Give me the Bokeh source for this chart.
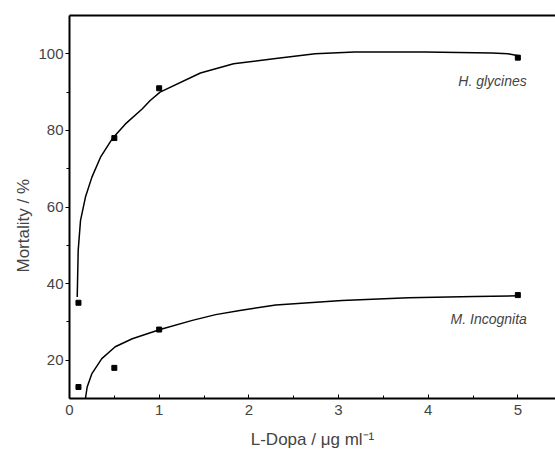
from bokeh.embed import file_html
from bokeh.models import FixedTicker, Label, LinearAxis, Range1d, Title
from bokeh.plotting import figure
from bokeh.resources import INLINE

# Measured mortality (%) at each L-Dopa concentration (ug/ml)
dose = [0.1, 0.5, 1.0, 5.0]
h_glycines = [35, 78, 91, 99]
m_incognita = [13, 18, 28, 37]

# Fitted response curves
h_fit_x = [0.086, 0.097, 0.123, 0.178, 0.25, 0.346, 0.476, 0.624, 0.81, 0.90, 1.01,
           1.46, 1.83, 2.30, 2.74, 3.18, 3.96, 4.71, 4.89, 5.02]
h_fit_y = [36.5, 48.7, 56.5, 62.6, 67.8, 73.0, 77.8, 81.7, 85.6, 87.8, 90.0,
           95.0, 97.4, 98.8, 100.0, 100.5, 100.5, 100.2, 100.0, 99.4]
m_fit_x = [0.178, 0.197, 0.25, 0.36, 0.51, 0.70, 1.01, 1.37, 1.63, 1.90, 2.30,
           3.04, 3.78, 4.52, 5.02]
m_fit_y = [10.0, 13.0, 16.5, 20.4, 23.5, 25.6, 28.0, 30.4, 31.9, 33.0, 34.4,
           35.6, 36.3, 36.6, 36.8]

x_ticks = [0, 1, 2, 3, 4, 5]
x_minor = [0.5, 1.5, 2.5, 3.5, 4.5]
y_ticks = [20, 40, 60, 80, 100]
y_minor = [30, 50, 70, 90]

FONT = "Liberation Sans"

p = figure(width=555, height=452, output_backend="svg", toolbar_location=None,
           x_range=Range1d(0, 5.42), y_range=Range1d(10, 110),
           min_border_left=69, min_border_right=0, min_border_top=15,
           min_border_bottom=54)
p.outline_line_color = None
p.grid.grid_line_color = None
p.background_fill_color = "white"
p.border_fill_color = "white"

# bottom axis
xa = p.xaxis[0]
xa.ticker = FixedTicker(ticks=x_ticks, minor_ticks=x_minor)
xa.axis_line_width = 2
xa.major_tick_in = 4
xa.major_tick_out = 0
xa.minor_tick_in = 3
xa.minor_tick_out = 0
xa.major_label_text_font = FONT
xa.major_label_text_font_size = "15px"
xa.major_label_standoff = 6
xa.axis_label = "L-Dopa / \u03bcg ml\u207b\u00b9"
xa.axis_label_text_font = FONT
xa.axis_label_text_font_size = "17px"
xa.axis_label_text_font_style = "normal"
xa.axis_label_standoff = 12

# left axis
ya = p.yaxis[0]
ya.ticker = FixedTicker(ticks=y_ticks, minor_ticks=y_minor)
ya.axis_line_width = 2
ya.major_tick_in = 0
ya.major_tick_out = 4
ya.minor_tick_in = 0
ya.minor_tick_out = 3
ya.major_label_text_font = FONT
ya.major_label_text_font_size = "15px"
ya.major_label_standoff = 2

# top border line
top = LinearAxis(ticker=FixedTicker(ticks=[]), major_label_text_font_size="0px",
                 axis_line_width=2)
p.add_layout(top, "above")

# y axis title, starting a fixed distance above the frame bottom
p.add_layout(Title(text="Mortality / %", align="left", offset=126,
                   text_font=FONT, text_font_size="17px",
                   text_font_style="normal", standoff=6), "left")

p.line(h_fit_x, h_fit_y, line_color="black", line_width=1.5)
p.line(m_fit_x, m_fit_y, line_color="black", line_width=1.5)
p.scatter(dose, h_glycines, marker="square", size=5, color="black")
p.scatter(dose, m_incognita, marker="square", size=5, color="black")

p.add_layout(Label(x=5.1, y=92.9, text="H. glycines", text_align="right",
                   text_baseline="middle", text_font=FONT, text_font_size="14px",
                   text_font_style="italic"))
p.add_layout(Label(x=5.1, y=30.7, text="M. Incognita", text_align="right",
                   text_baseline="middle", text_font=FONT, text_font_size="14px",
                   text_font_style="italic"))

open("out.html", "w").write(file_html(p, INLINE))
